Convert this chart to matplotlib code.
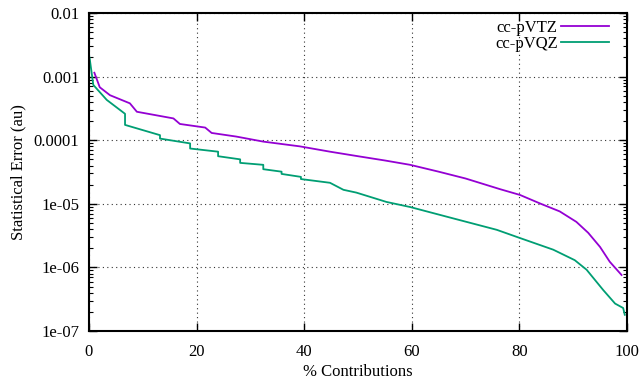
import matplotlib.pyplot as plt
import matplotlib.ticker as mticker

plt.rcParams['font.family'] = ['Liberation Serif', 'DejaVu Serif']

# cc-pVTZ
vtz_x = [1.0, 2.0, 3.9, 7.6, 8.9, 15.7, 16.9, 21.6, 22.8, 27.4, 32.4, 39.2,
         44.8, 50.0, 55.0, 59.7, 65.0, 70.0, 76.4, 80.1, 84.0, 87.5, 90.6,
         92.8, 95.0, 96.8, 99.0]
vtz_y = [1.15e-3, 6.8e-4, 5.1e-4, 3.8e-4, 2.8e-4, 2.2e-4, 1.8e-4, 1.58e-4,
         1.3e-4, 1.14e-4, 9.5e-5, 8.0e-5, 6.6e-5, 5.6e-5, 4.8e-5, 4.1e-5,
         3.2e-5, 2.5e-5, 1.7e-5, 1.38e-5, 1.0e-5, 7.6e-6, 5.2e-6, 3.5e-6,
         2.1e-6, 1.23e-6, 7.6e-7]

# cc-pVQZ
vqz_x = [0.1, 0.8, 3.3, 6.7, 6.7, 13.2, 13.2, 18.8, 18.8, 24.0, 24.0, 28.1,
         28.1, 32.4, 32.4, 35.8, 35.8, 39.4, 39.4, 44.8, 47.3, 49.7, 55.3,
         59.7, 67.7, 75.8, 80.1, 86.3, 90.3, 92.5, 95.6, 97.8, 99.3, 99.6]
vqz_y = [2.0e-3, 7.4e-4, 4.3e-4, 2.6e-4, 1.74e-4, 1.2e-4, 1.06e-4, 8.9e-5,
         7.4e-5, 6.6e-5, 5.6e-5, 5.0e-5, 4.4e-5, 4.1e-5, 3.5e-5, 3.2e-5,
         2.95e-5, 2.65e-5, 2.45e-5, 2.14e-5, 1.66e-5, 1.5e-5, 1.07e-5,
         8.9e-6, 5.9e-6, 3.9e-6, 2.9e-6, 1.9e-6, 1.3e-6, 9.2e-7, 4.4e-7,
         2.7e-7, 2.3e-7, 1.8e-7]

y_ticks = [1e-7, 1e-6, 1e-5, 1e-4, 1e-3, 1e-2]
y_labels = ['1e-07', '1e-06', '1e-05', '0.0001', '0.001', '0.01']
x_ticks = [0, 20, 40, 60, 80, 100]

fig = plt.figure(figsize=(6.43, 3.81), dpi=100)
ax = fig.add_axes([0.1384, 0.1312, 0.8366, 0.8347])

ax.plot(vtz_x, vtz_y, color='#9400d3', lw=1.3, label='cc-pVTZ')
ax.plot(vqz_x, vqz_y, color='#009e73', lw=1.3, label='cc-pVQZ')

ax.set_yscale('log')
ax.set_xlim(0, 100)
ax.set_ylim(1e-7, 1e-2)
ax.set_xticks(x_ticks)
ax.set_yticks(y_ticks)
ax.set_yticklabels(y_labels)
ax.yaxis.set_minor_locator(mticker.LogLocator(base=10, subs=range(2, 10), numticks=20))
ax.yaxis.set_minor_formatter(mticker.NullFormatter())

ax.tick_params(which='both', direction='in', top=True, right=True, labelsize=12)
ax.tick_params(which='major', length=6, width=1)
ax.tick_params(which='minor', length=3, width=0.8)
ax.tick_params(axis='x', pad=9)
ax.tick_params(axis='y', pad=7)
for s in ax.spines.values():
    s.set_linewidth(1.5)

ax.grid(True, which='major', linestyle=(0, (1, 3)), color='#333333', lw=0.8)

ax.set_xlabel('% Contributions', fontsize=12, labelpad=3)
ax.set_ylabel('Statistical Error (au)', fontsize=12, labelpad=5)

leg = ax.legend(loc='upper right', frameon=False, markerfirst=False, fontsize=12,
                handlelength=2.9, handletextpad=0.2, borderaxespad=0.0,
                labelspacing=0.0, bbox_to_anchor=(0.98, 1.0))

fig.savefig('out.png', dpi=100)
